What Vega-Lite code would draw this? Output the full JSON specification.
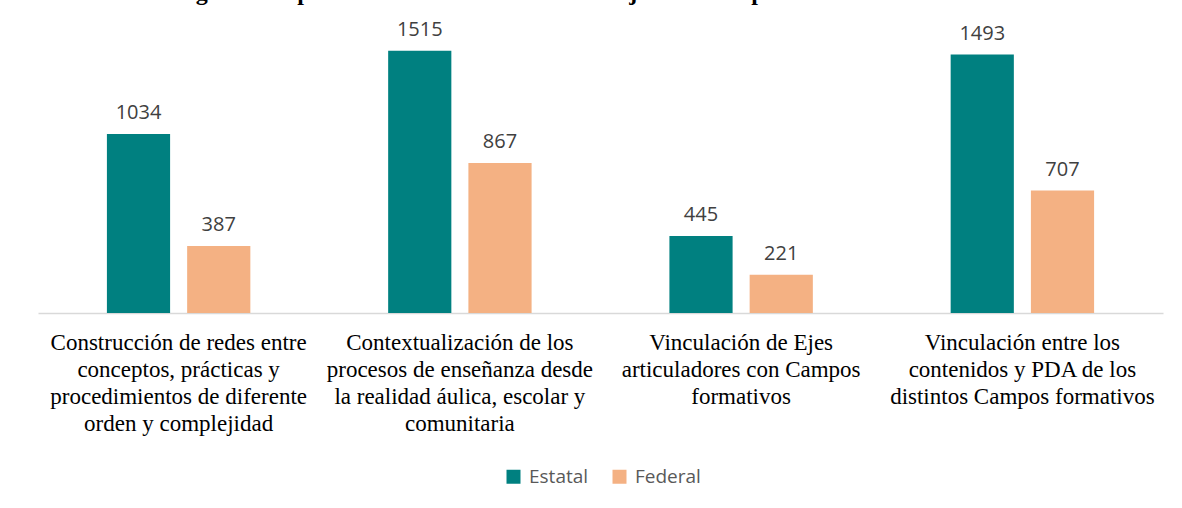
{
  "$schema": "https://vega.github.io/schema/vega-lite/v6.json",
  "autosize": {"type": "none"},
  "width": 1125,
  "height": 277,
  "padding": {"left": 38, "top": 36, "right": 19, "bottom": 195},
  "background": "white",
  "title": {
    "text": "Gráfico No. 16. Sugerencias para fortalecer en torno al trabajo interdisciplinario",
    "anchor": "start",
    "frame": "group",
    "orient": "top",
    "font": "Liberation Serif",
    "fontSize": 24,
    "fontWeight": "bold",
    "color": "black",
    "baseline": "alphabetic",
    "offset": 0,
    "dy": 4,
    "dx": -31
  },
  "data": {
    "values": [
      {"categoria": "Construcción de redes entre|conceptos, prácticas y|procedimientos de diferente|orden y complejidad", "tipo": "Estatal", "valor": 1034},
      {"categoria": "Construcción de redes entre|conceptos, prácticas y|procedimientos de diferente|orden y complejidad", "tipo": "Federal", "valor": 387},
      {"categoria": "Contextualización de los|procesos de enseñanza desde|la realidad áulica, escolar y|comunitaria", "tipo": "Estatal", "valor": 1515},
      {"categoria": "Contextualización de los|procesos de enseñanza desde|la realidad áulica, escolar y|comunitaria", "tipo": "Federal", "valor": 867},
      {"categoria": "Vinculación de Ejes|articuladores con Campos|formativos", "tipo": "Estatal", "valor": 445},
      {"categoria": "Vinculación de Ejes|articuladores con Campos|formativos", "tipo": "Federal", "valor": 221},
      {"categoria": "Vinculación entre los|contenidos y PDA de los|distintos Campos formativos", "tipo": "Estatal", "valor": 1493},
      {"categoria": "Vinculación entre los|contenidos y PDA de los|distintos Campos formativos", "tipo": "Federal", "valor": 707}
    ]
  },
  "encoding": {
    "x": {
      "field": "categoria",
      "type": "nominal",
      "sort": null,
      "title": null,
      "scale": {"paddingInner": 0.49, "paddingOuter": 0.245},
      "axis": {
        "labelAngle": 0,
        "labelExpr": "split(datum.label, '|')",
        "labelFont": "Liberation Serif",
        "labelFontSize": 23,
        "labelColor": "black",
        "labelLineHeight": 27,
        "labelPadding": 18,
        "labelLimit": 400,
        "ticks": false,
        "domainColor": "#d9d9d9",
        "domainWidth": 1.5,
        "grid": false
      }
    },
    "xOffset": {
      "field": "tipo",
      "type": "nominal",
      "scale": {"paddingInner": 0.2125, "paddingOuter": 0}
    },
    "y": {
      "field": "valor",
      "type": "quantitative",
      "scale": {"domain": [0, 1600]},
      "axis": null
    }
  },
  "layer": [
    {
      "mark": {"type": "bar"},
      "encoding": {
        "color": {
          "field": "tipo",
          "type": "nominal",
          "title": null,
          "scale": {"domain": ["Estatal", "Federal"], "range": ["#008080", "#F4B183"]},
          "legend": {
            "orient": "none",
            "legendX": 466,
            "legendY": 431,
            "direction": "horizontal",
            "padding": 0,
            "symbolType": "square",
            "symbolSize": 196,
            "symbolStrokeWidth": 0,
            "labelFont": "Open Sans",
            "labelFontSize": 19,
            "labelColor": "#595959",
            "labelOffset": 6,
            "columnPadding": 21
          }
        }
      }
    },
    {
      "mark": {"type": "text", "dy": -11, "baseline": "bottom", "font": "Open Sans", "fontSize": 20, "color": "#404040"},
      "encoding": {
        "text": {"field": "valor", "type": "quantitative"}
      }
    }
  ],
  "config": {"view": {"stroke": null}}
}
